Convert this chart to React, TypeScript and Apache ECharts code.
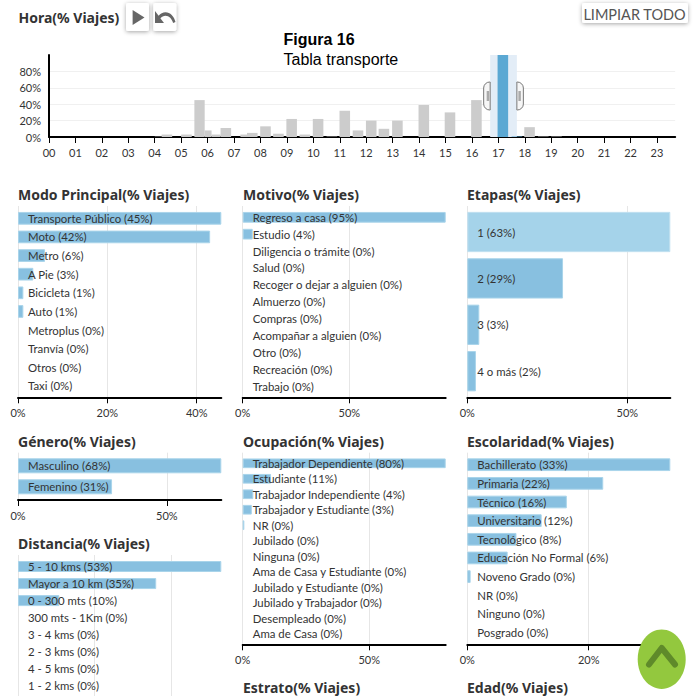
import React, { useEffect, useRef } from "react";
import * as echarts from "echarts";

const hourStarts = [4.0, 4.26, 5.0, 5.5, 5.89, 6.15, 6.49, 7.24, 7.49, 7.99, 8.48, 8.98, 9.48, 9.98, 10.5, 10.99, 11.49, 11.99, 12.47, 12.98, 13.98, 14.97, 15.97, 16.97, 17.5, 17.98, 18.5, 19.0];
const hourEnds = [4.26, 4.66, 5.4, 5.89, 6.15, 6.49, 6.89, 7.49, 7.89, 8.39, 8.88, 9.38, 9.88, 10.38, 10.9, 11.39, 11.89, 12.39, 12.87, 13.38, 14.38, 15.37, 16.37, 17.37, 17.9, 18.38, 18.9, 19.4];
const hourValues = [0.4, 3, 3, 45, 8, 3, 11, 3, 5, 13, 4, 22, 3, 22, 0.5, 32, 8, 20, 10, 20, 39, 30, 45, 100, 0.5, 12, 0.5, 0.5];
const selectedHour = [16.69, 17.7];
const hourMax = 23.69;

const modoCats = ["Transporte Público (45%)", "Moto (42%)", "Metro (6%)", "A Pie (3%)", "Bicicleta (1%)", "Auto (1%)", "Metroplus (0%)", "Tranvía (0%)", "Otros (0%)", "Taxi (0%)"];
const modoVals = [45.5, 43, 6.05, 3.43, 1.2, 1.2, 0, 0, 0, 0];
const motivoCats = ["Regreso a casa (95%)", "Estudio (4%)", "Diligencia o trámite (0%)", "Salud (0%)", "Recoger o dejar a alguien (0%)", "Almuerzo (0%)", "Compras (0%)", "Acompañar a alguien (0%)", "Otro (0%)", "Recreación (0%)", "Trabajo (0%)"];
const motivoVals = [95.2, 4.7, 0, 0, 0, 0, 0, 0, 0, 0, 0];
const etapasCats = ["1 (63%)", "2 (29%)", "3 (3%)", "4 o más (2%)"];
const etapasVals = [63.4, 29.9, 3.75, 2.7];
const generoCats = ["Masculino (68%)", "Femenino (31%)"];
const generoVals = [68.3, 31.6];
const ocupacionCats = ["Trabajador Dependiente (80%)", "Estudiante (11%)", "Trabajador Independiente (4%)", "Trabajador y Estudiante (3%)", "NR (0%)", "Jubilado (0%)", "Ninguna (0%)", "Ama de Casa y Estudiante (0%)", "Jubilado y Estudiante (0%)", "Jubilado y Trabajador (0%)", "Desempleado (0%)", "Ama de Casa (0%)"];
const ocupacionVals = [80.2, 11.2, 4.2, 3.6, 0.65, 0, 0, 0, 0, 0, 0, 0];
const escolaridadCats = ["Bachillerato (33%)", "Primaria (22%)", "Técnico (16%)", "Universitario (12%)", "Tecnológico (8%)", "Educación No Formal (6%)", "Noveno Grado (0%)", "NR (0%)", "Ninguno (0%)", "Posgrado (0%)"];
const escolaridadVals = [33.45, 22.4, 16.4, 12.25, 8.1, 6.65, 0.55, 0, 0, 0];
const distanciaCats = ["5 - 10 kms (53%)", "Mayor a 10 km (35%)", "0 - 300 mts (10%)", "300 mts - 1Km (0%)", "3 - 4 kms (0%)", "2 - 3 kms (0%)", "4 - 5 kms (0%)", "1 - 2 kms (0%)"];
const distanciaVals = [53.1, 36.1, 10.8, 0, 0, 0, 0, 0];

const LABEL_FONT = "Lato";
const TITLE_FONT = "Noto Sans";
const TEXT = "#333";
const BAR = "#88c0e0";

const X1 = [18, 221.3];
const X2 = [242.7, 445.7];
const X3 = [467.3, 670.3];

const panels: any[] = [
  { cats: modoCats, vals: modoVals, x: X1, top: 206, axisY: 397.3, first: 218.3, pitch: 18.63, bar: 12.7, interval: 20 },
  { cats: motivoCats, vals: motivoVals, x: X2, top: 206, axisY: 397.3, first: 217.3, pitch: 16.87, bar: 10.7, interval: 50 },
  { cats: etapasCats, vals: etapasVals, x: X3, top: 206, axisY: 397.3, first: 232, pitch: 46.4, bar: 40.3, interval: 50, light: true },
  { cats: generoCats, vals: generoVals, x: X1, top: 452.7, axisY: 500, first: 465.8, pitch: 21, bar: 15, interval: 50 },
  { cats: ocupacionCats, vals: ocupacionVals, x: X2, top: 452.7, axisY: 644.3, first: 463.3, pitch: 15.48, bar: 9.7, interval: 50 },
  { cats: escolaridadCats, vals: escolaridadVals, x: X3, top: 452.7, axisY: 644.3, first: 464.7, pitch: 18.65, bar: 12.7, interval: 20 },
  { cats: distanciaCats, vals: distanciaVals, x: X1, top: 555, axisY: 700, first: 566.5, pitch: 17.05, bar: 11, interval: 20, noAxis: true },
];

const titles: [string, number, number][] = [
  ["Modo Principal(% Viajes)", 18, 194],
  ["Motivo(% Viajes)", 243, 194],
  ["Etapas(% Viajes)", 467, 194],
  ["Género(% Viajes)", 18, 441],
  ["Ocupación(% Viajes)", 243, 441],
  ["Escolaridad(% Viajes)", 467, 441],
  ["Distancia(% Viajes)", 18, 543.3],
  ["Estrato(% Viajes)", 243, 687.3],
  ["Edad(% Viajes)", 467, 687.3],
];

const W = 694;
const H = 696;

function buildOption() {
  const grid: any[] = [];
  const xAxis: any[] = [];
  const yAxis: any[] = [];
  const series: any[] = [];

  // Hour histogram
  grid.push({ left: 49, width: 626.2, top: 55, height: 82 });
  xAxis.push({
    type: "value", min: 0, max: hourMax, interval: 1, gridIndex: 0,
    splitLine: { show: false },
    axisLine: { lineStyle: { color: "#000", width: 2 } },
    axisTick: { show: true, length: 6, lineStyle: { color: "#000" } },
    axisLabel: { color: TEXT, fontFamily: LABEL_FONT, fontSize: 11, margin: 9.5, showMaxLabel: false,
      formatter: (v: number) => (Number.isInteger(v) && v < 24 ? String(v).padStart(2, "0") : "") },
  });
  yAxis.push({
    type: "value", min: 0, max: 100, interval: 20, gridIndex: 0,
    splitLine: { show: true, showMaxLine: false, lineStyle: { color: "#f0f0f0" } },
    axisLine: { show: true, lineStyle: { color: "#000", width: 2 } },
    axisTick: { show: false },
    axisLabel: { color: TEXT, fontFamily: LABEL_FONT, fontSize: 11, margin: 8,
      formatter: (v: number) => (v < 100 ? v + "%" : "") },
  });
  series.push({
    type: "custom", xAxisIndex: 0, yAxisIndex: 0, z: 1, silent: true, clip: false,
    data: [[selectedHour[0], selectedHour[1]]],
    encode: { x: [0, 1] },
    renderItem: (_p: any, api: any) => {
      const a = api.coord([api.value(0), 100]);
      const b = api.coord([api.value(1), 0]);
      const handle = (x: number, w: number, r: number[], inner: number) => ([
        { type: "rect", shape: { x, y: 82, width: w, height: 28, r }, style: { fill: "#f6f6f6", stroke: "#777", lineWidth: 1 } },
        { type: "rect", shape: { x: inner, y: 91, width: 2.5, height: 10 }, style: { fill: "#aaa" } },
      ]);
      return {
        type: "group",
        children: [
          { type: "rect", shape: { x: a[0], y: a[1], width: b[0] - a[0], height: b[1] - a[1] }, style: { fill: "#e3edf7" } },
          ...handle(a[0] - 6.5, 6.5, [6, 0, 0, 6], a[0] - 3.5),
          ...handle(b[0], 6.5, [0, 6, 6, 0], b[0] + 1.5),
        ],
      };
    },
  });
  series.push({
    type: "custom", xAxisIndex: 0, yAxisIndex: 0, z: 2, silent: true,
    data: hourStarts.map((s, i) => [s, hourEnds[i], hourValues[i]]),
    encode: { x: [0, 1], y: 2 },
    renderItem: (_p: any, api: any) => {
      const s = api.value(0);
      const a = api.coord([s, api.value(2)]);
      const b = api.coord([api.value(1), 0]);
      const on = s >= selectedHour[0] && s < selectedHour[1];
      return {
        type: "rect",
        shape: { x: a[0], y: a[1], width: b[0] - a[0], height: b[1] - a[1] },
        style: { fill: on ? "#5ba8d3" : "#cccccc" },
      };
    },
  });

  panels.forEach((p) => {
    const max = Math.max(...p.vals);
    const g = grid.length;
    // background grid: gridlines and the value axis
    grid.push({ left: p.x[0], width: p.x[1] - p.x[0], top: p.top, height: p.axisY - p.top });
    xAxis.push({
      type: "value", gridIndex: g, min: 0, max, interval: p.interval,
      splitLine: { show: true, showMaxLine: false, lineStyle: { color: "#e6e6e6" } },
      axisLine: { show: !p.noAxis, lineStyle: { color: "#000", width: 2 } },
      axisTick: { show: !p.noAxis, length: 6, lineStyle: { color: "#000" } },
      axisLabel: { show: !p.noAxis, color: TEXT, fontFamily: LABEL_FONT, fontSize: 11, margin: 9.5, showMaxLabel: false,
        formatter: (v: number) => (v % p.interval === 0 ? v + "%" : "") },
    });
    yAxis.push({ type: "value", gridIndex: g, min: 0, max: 1, show: false });
    // bar grid
    const bandTop = p.first - p.pitch / 2;
    grid.push({ left: p.x[0], width: p.x[1] - p.x[0], top: bandTop, height: p.pitch * p.cats.length });
    xAxis.push({ type: "value", gridIndex: g + 1, min: 0, max, show: false, splitLine: { show: false } });
    yAxis.push({
      type: "category", gridIndex: g + 1, inverse: true, data: p.cats, z: 6,
      axisLine: { show: false }, axisTick: { show: false }, splitLine: { show: false },
      axisLabel: { inside: true, interval: 0, margin: 10, color: TEXT, fontFamily: LABEL_FONT, fontSize: 11.4, align: "left" },
    });
    series.push({
      type: "bar", xAxisIndex: g + 1, yAxisIndex: g + 1, barWidth: p.bar, silent: true, z: 2,
      data: p.vals.map((v: number, i: number) => ({
        value: v,
        itemStyle: {
          color: p.light && i === 0 ? "#a5d3ea" : BAR,
          borderColor: p.light && i === 0 ? "#c0e0f0" : "#a9d4ea",
          borderWidth: v > 0 ? 1 : 0,
        },
      })),
    });
  });

  const btn = (x: number, w: number, y = 3, h = 28) => ({
    type: "rect", shape: { x, y, width: w, height: h, r: 2 },
    style: { fill: "#fff", shadowBlur: 4, shadowColor: "rgba(0,0,0,0.35)", shadowOffsetY: 1 },
  });

  const graphicEls: any[] = [
    ...titles.map(([text, x, y]) => ({
      type: "text", x, y,
      style: { text, fill: TEXT, font: `bold 14px "${TITLE_FONT}"`, verticalAlign: "middle", align: "left" },
    })),
    { type: "text", x: 18.5, y: 17, style: { text: "Hora(% Viajes)", fill: TEXT, font: `bold 14px "${TITLE_FONT}"`, verticalAlign: "middle" } },
    btn(126, 23),
    btn(153.3, 23),
    { type: "polygon", shape: { points: [[132.6, 10], [144.5, 17.5], [132.6, 25]] }, style: { fill: "#666" } },
    { type: "undoIcon", x: 153, y: 1.5, scaleX: 1, scaleY: 1.35, style: { fill: "#666" } },
    btn(582, 106, 3, 20),
    { type: "text", x: 634.5, y: 14, style: { text: "LIMPIAR TODO", fill: "#555", font: `14.5px "${LABEL_FONT}"`, align: "center", verticalAlign: "middle" } },
    { type: "text", x: 283.5, y: 39.5, style: { text: "Figura 16", fill: "#000", font: 'bold 16px "Liberation Sans"', verticalAlign: "middle" } },
    { type: "text", x: 283.5, y: 59, style: { text: "Tabla transporte", fill: "#000", font: '16px "Liberation Sans"', verticalAlign: "middle" } },
    { type: "ellipse", z: 50, shape: { cx: 661.7, cy: 659.3, rx: 24, ry: 29.7 }, style: { fill: "#93c83e" } },
    { type: "polyline", z: 51, shape: { points: [[649, 664.5], [661.7, 648], [675, 664.5]] }, style: { stroke: "#5f8a2a", lineWidth: 6, fill: "none", lineCap: "round", lineJoin: "round" } },
  ];

  return {
    animation: false,
    backgroundColor: "#fff",
    grid, xAxis, yAxis, series,
    graphic: { elements: graphicEls },
  };
}

const undoPath = "M12.5 8c-2.65 0-5.05.99-6.9 2.6L2 7v9h9l-3.62-3.62c1.39-1.16 3.16-1.88 5.12-1.88 3.54 0 6.55 2.31 7.6 5.5l2.37-.78C21.08 11.03 17.15 8 12.5 8z";
echarts.graphic.registerShape("undoIcon", echarts.graphic.extendPath(undoPath as any, {}));

export default function App() {
  const ref = useRef<HTMLDivElement>(null);
  useEffect(() => {
    document.body.style.margin = "0";
    document.body.style.overflow = "hidden";
    const chart = echarts.init(ref.current!, undefined, { renderer: "svg" });
    chart.setOption(buildOption() as any);
    return () => chart.dispose();
  }, []);
  return <div ref={ref} style={{ width: W, height: H }} />;
}
